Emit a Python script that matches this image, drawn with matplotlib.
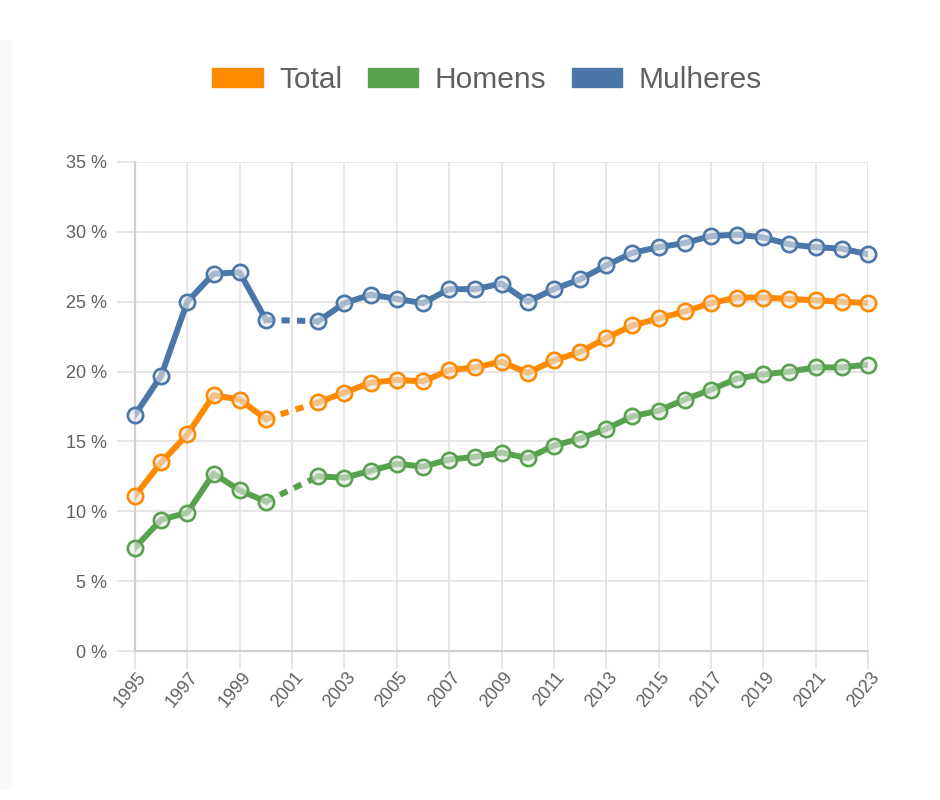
import matplotlib.pyplot as plt
import matplotlib.transforms as mtransforms
from matplotlib.patches import Patch, Rectangle
import numpy as np

years = list(range(1995, 2024))

# 2001 has no value: None
total = [11.1, 13.5, 15.5, 18.3, 18.0, 16.6, None, 17.8, 18.5, 19.2, 19.4,
         19.3, 20.1, 20.3, 20.7, 19.9, 20.8, 21.4, 22.4, 23.3, 23.8, 24.3,
         24.9, 25.3, 25.3, 25.2, 25.1, 25.0, 24.9]
homens = [7.4, 9.4, 9.9, 12.7, 11.5, 10.7, None, 12.5, 12.4, 12.9, 13.4,
          13.2, 13.7, 13.9, 14.2, 13.8, 14.7, 15.2, 15.9, 16.8, 17.2, 18.0,
          18.7, 19.5, 19.8, 20.0, 20.3, 20.3, 20.5]
mulheres = [16.9, 19.7, 25.0, 27.0, 27.1, 23.7, None, 23.6, 24.9, 25.5, 25.2,
            24.9, 25.9, 25.9, 26.3, 25.0, 25.9, 26.6, 27.6, 28.5, 28.9, 29.2,
            29.7, 29.8, 29.6, 29.1, 28.9, 28.8, 28.4]

labels = ['Total', 'Homens', 'Mulheres']
colors = ['#ff8a00', '#58a14e', '#4a76a8']
y_ticks = [0, 5, 10, 15, 20, 25, 30, 35]
x_ticks = list(range(1995, 2024, 2))

plt.rcParams['font.family'] = ['Liberation Sans', 'DejaVu Sans']

fig = plt.figure(figsize=(9.4, 8), dpi=100)
fig.patches.append(Rectangle((0, 10 / 800), 12 / 940, 750 / 800,
                             transform=fig.transFigure, facecolor='#fafafa',
                             edgecolor='none', zorder=-10))
ax = fig.add_axes([135 / 940, 1 - 651 / 800, 733 / 940, 489 / 800])

x = np.array(years)
for vals, col in zip([total, homens, mulheres], colors):
    y = np.array([np.nan if v is None else v for v in vals], dtype=float)
    ax.plot(x, y, color=col, lw=4.3, solid_joinstyle='round', zorder=3)
    # dashed bridge over missing years
    for i in np.where(np.isnan(y))[0]:
        ax.plot([x[i - 1], x[i + 1]], [y[i - 1], y[i + 1]], color=col, lw=4.3,
                dashes=(1.4, 1.2), dash_capstyle='butt', zorder=3)
    ax.plot(x, y, ls='none', marker='o', ms=11, mew=1.9, mec=col,
            mfc=(0.9, 0.9, 0.9, 0.6), zorder=4, clip_on=False)

ax.set_xlim(1995, 2023)
ax.set_ylim(0, 35)
ax.set_xticks(x_ticks)
ax.set_yticks(y_ticks)
ax.set_yticklabels([f'{v} %' for v in y_ticks])
ax.grid(True, color='#e2e2e2', lw=1.2, zorder=0)
ax.set_axisbelow(True)
for s in ['top', 'right']:
    ax.spines[s].set_visible(False)
for s in ['left', 'bottom']:
    ax.spines[s].set_color('#cfcfcf')
    ax.spines[s].set_linewidth(1.6)
ax.tick_params(axis='both', length=13, width=1.2, color='#e2e2e2',
               labelcolor='#606060', labelsize=13, pad=7)
ax.tick_params(axis='x', pad=4)

offset = mtransforms.ScaledTranslation(8 / 100, 0, fig.dpi_scale_trans)
for lab in ax.get_xticklabels():
    lab.set_rotation(50)
    lab.set_ha('right')
    lab.set_va('center')
    lab.set_rotation_mode('anchor')
    lab.set_transform(lab.get_transform() + offset)

handles = [Patch(facecolor=c, edgecolor=c, label=l) for c, l in zip(colors, labels)]
fig.legend(handles=handles, loc='center', bbox_to_anchor=(487 / 940, 1 - 80 / 800),
           ncol=3, frameon=False, fontsize=21.5, labelcolor='#606060',
           handlelength=1.7, handleheight=0.58, handletextpad=0.55,
           columnspacing=0.85)

fig.savefig('out.png', dpi=100, facecolor='white')
